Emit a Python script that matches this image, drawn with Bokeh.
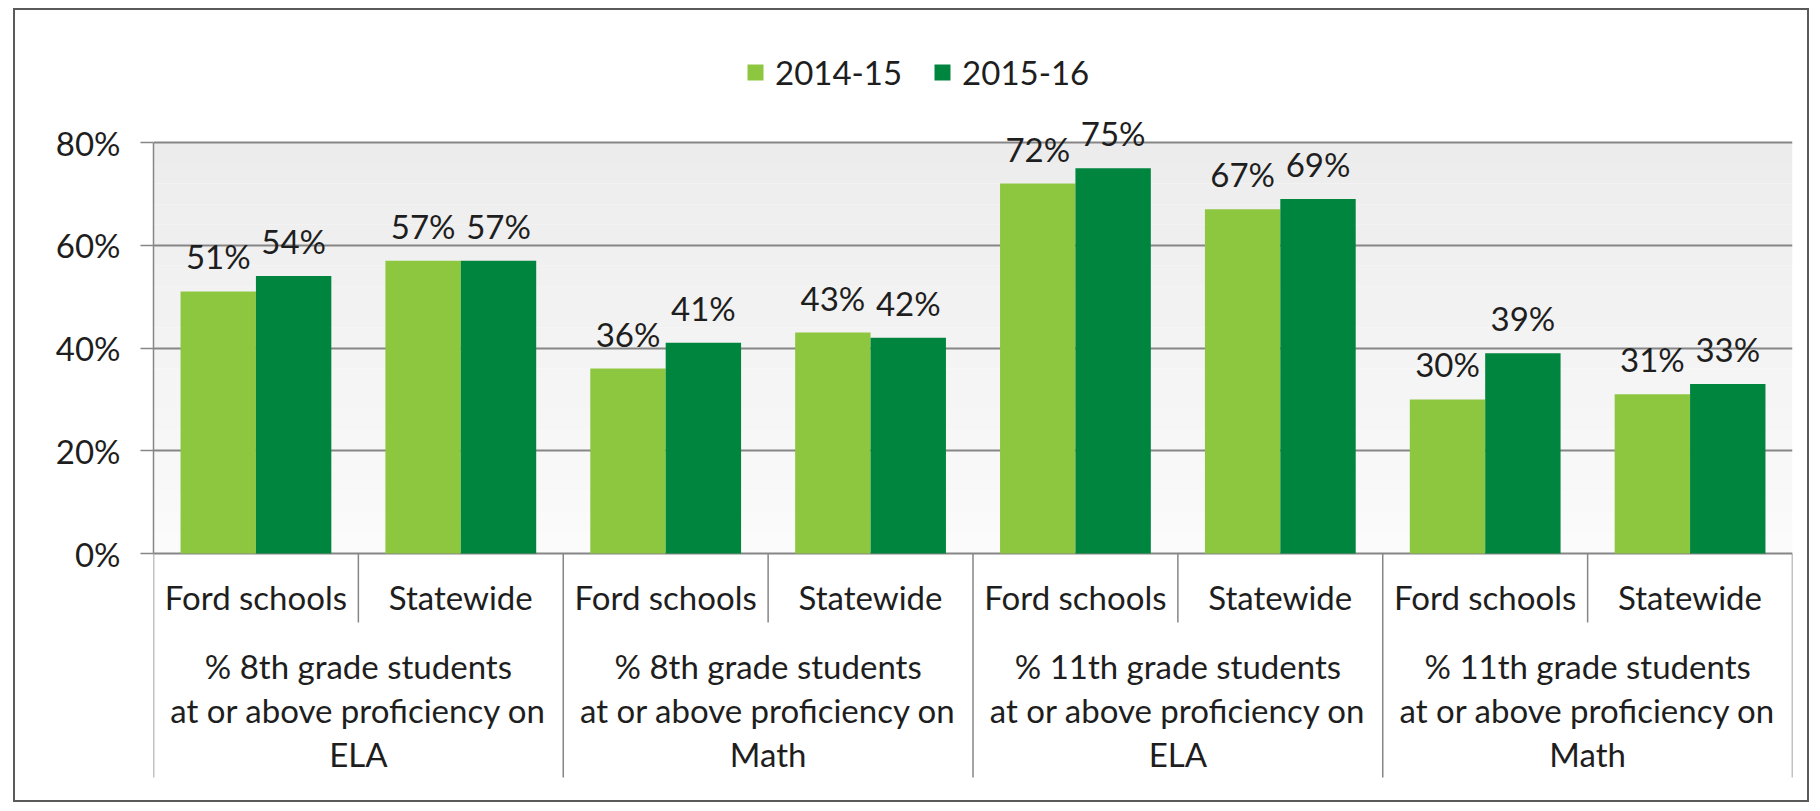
import numpy as np
from bokeh.plotting import figure
from bokeh.models import (Range1d, FixedTicker, PrintfTickFormatter,
                          BoxAnnotation, Legend, LegendItem)
from bokeh.core.properties import value
from bokeh.embed import file_html
from bokeh.resources import INLINE

# ---------------- data ----------------
groups = [
    "% 8th grade students\nat or above proficiency on\nELA",
    "% 8th grade students\nat or above proficiency on\nMath",
    "% 11th grade students\nat or above proficiency on\nELA",
    "% 11th grade students\nat or above proficiency on\nMath",
]
subgroups = ["Ford schools", "Statewide"]
series_names = ["2014-15", "2015-16"]
values_2014_15 = [51, 57, 36, 43, 72, 67, 30, 31]
values_2015_16 = [54, 57, 41, 42, 75, 69, 39, 33]
y_ticks = [0, 20, 40, 60, 80]

# ---------------- style ----------------
FONT = "Lato"
FS = "33px"
TXT = "#1e1e1e"
GRID = "#868686"
LIGHT = "#8DC63F"
DARK = "#00853E"

W, H = 1796, 794
PX_PER_UNIT = 102.75 / 20.0
TOP_PX = 132      # px above the 80% line
BOT_PX = 251      # px below the 0% line
y_top = 80 + TOP_PX / PX_PER_UNIT
y_bot = -BOT_PX / PX_PER_UNIT

n_cat = len(groups) * len(subgroups)
cat_labels = [s for g in groups for s in subgroups]
centers = np.arange(n_cat) + 0.5
bar_w = 0.368

p = figure(width=W, height=H, output_backend="svg", toolbar_location=None,
           x_range=Range1d(0, n_cat), y_range=Range1d(y_bot, y_top),
           x_axis_location=None, min_border_left=138, min_border_right=19,
           min_border_top=0, min_border_bottom=0, margin=(8, 0, 0, 13))
p.outline_line_color = None
p.background_fill_color = "white"
p.border_fill_color = "white"
p.styles = {"border": "2px solid #5a5a5a"}

# gradient plot-area background (0% .. 80%)
nb = 20
for i in range(nb):
    t = (i + 0.5) / nb
    c = int(round(251 - t * (251 - 236)))
    p.add_layout(BoxAnnotation(bottom=80 * i / nb, top=80 * (i + 1) / nb,
                               fill_color="#%02x%02x%02x" % (c, c, c), fill_alpha=1,
                               line_color=None, level="image"))

# y axis
ax = p.yaxis[0]
ax.ticker = FixedTicker(ticks=y_ticks)
ax.formatter = PrintfTickFormatter(format="%d%%")
ax.bounds = (0, 80)
ax.axis_line_color = GRID
ax.axis_line_width = 1.5
ax.major_tick_line_color = GRID
ax.major_tick_line_width = 1.5
ax.major_tick_out = 13
ax.major_tick_in = 0
ax.minor_tick_out = 0
ax.minor_tick_in = 0
ax.major_label_standoff = 20
ax.major_label_text_font = FONT
ax.major_label_text_font_size = FS
ax.major_label_text_color = TXT

for g in p.xgrid:
    g.visible = False
p.ygrid.ticker = FixedTicker(ticks=y_ticks)
p.ygrid.grid_line_color = GRID
p.ygrid.grid_line_width = 2

# bars
r1 = p.vbar(x=centers - bar_w / 2, top=values_2014_15, width=bar_w, bottom=0,
            fill_color=LIGHT, line_color=None)
r2 = p.vbar(x=centers + bar_w / 2, top=values_2015_16, width=bar_w, bottom=0,
            fill_color=DARK, line_color=None)

# value labels
p.text(x=centers - bar_w / 2, y=values_2014_15, text=["%d%%" % v for v in values_2014_15],
       text_font=value(FONT), text_font_size=FS, text_color=TXT,
       text_align="center", text_baseline="alphabetic", y_offset=-35)
p.text(x=centers + bar_w / 2, y=values_2015_16, text=["%d%%" % v for v in values_2015_16],
       text_font=value(FONT), text_font_size=FS, text_color=TXT,
       text_align="center", text_baseline="alphabetic", y_offset=-35)

# category axis: separators
sub_sep_x = np.arange(1, n_cat, 2)
grp_sep_x = np.arange(0, n_cat + 1, 2)
p.segment(x0=sub_sep_x, x1=sub_sep_x, y0=0, y1=-69 / PX_PER_UNIT,
          line_color=GRID, line_width=1.5)
p.segment(x0=grp_sep_x, x1=grp_sep_x, y0=0, y1=-224 / PX_PER_UNIT,
          line_color=GRID, line_width=1.5)

# subgroup labels
p.text(x=centers, y=np.zeros(n_cat), text=cat_labels,
       text_font=value(FONT), text_font_size=FS, text_color=TXT,
       text_align="center", text_baseline="alphabetic", y_offset=43)

# group labels (one glyph per line)
grp_centers = np.arange(len(groups)) * 2 + 1.0
lines = [g.split("\n") for g in groups]
for k in range(3):
    p.text(x=grp_centers, y=np.zeros(len(groups)), text=[l[k] for l in lines],
           text_font=value(FONT), text_font_size=FS, text_color=TXT,
           text_align="center", text_baseline="alphabetic", y_offset=112 + 44 * k)

# legend
legend = Legend(items=[LegendItem(label=series_names[0], renderers=[r1]),
                       LegendItem(label=series_names[1], renderers=[r2])],
                orientation="horizontal", location=(592, 712),
                glyph_width=20, glyph_height=20, label_standoff=10, spacing=30,
                padding=0, margin=0, border_line_color=None,
                background_fill_alpha=0,
                label_text_font=FONT, label_text_font_size=FS,
                label_text_color=TXT)
p.add_layout(legend)

open("out.html", "w").write(file_html(p, INLINE))
